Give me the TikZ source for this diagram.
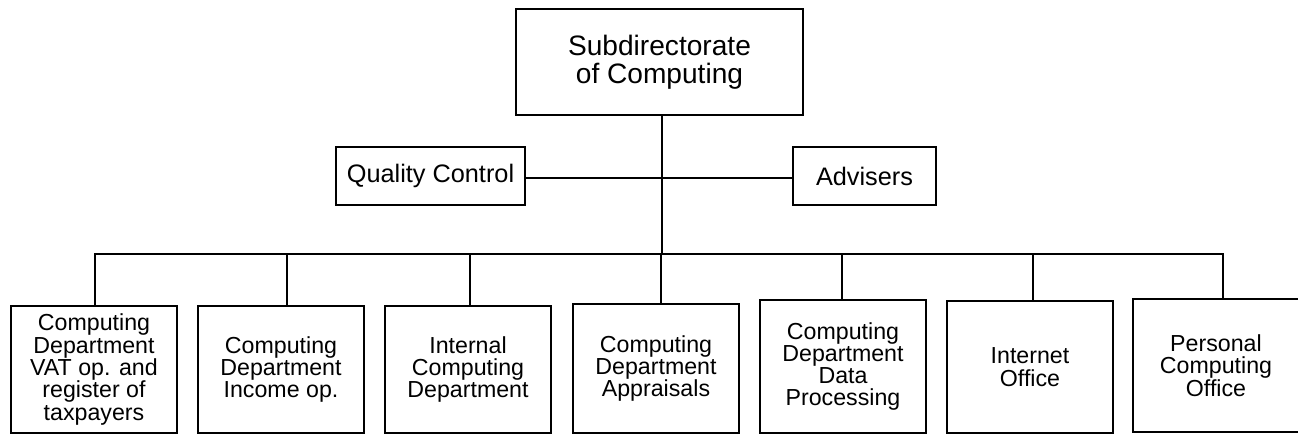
\documentclass[tikz,border=0pt]{standalone}
\usepackage{fontspec}
\setmainfont{Liberation Sans}
\usepackage{tikz}

\begin{document}
\begin{tikzpicture}[x=0.02cm, y=-0.02cm, line width=1.1pt,
		unitbox/.style={draw, rectangle, inner sep=0pt, align=center},
		headbox/.style={unitbox, minimum width=5.74cm, minimum height=2.12cm, font=\fontsize{16}{16}\selectfont},
		staffbox/.style={unitbox, minimum height=1.16cm, font=\fontsize{14.4}{14.4}\selectfont},
		deptbox/.style={unitbox, minimum width=3.32cm, font=\fontsize{13.2}{12.7}\selectfont}]
		\useasboundingbox (0, 0) rectangle (1298, 434);
		% Boxes:
		\node[headbox] (Head) at (659.5, 62){Subdirectorate\\of Computing};
		\node[staffbox, minimum width=3.78cm] (Quality) at (430.5, 176){Quality Control};
		\node[staffbox, minimum width=2.86cm] (Advisers) at (864.5, 176){Advisers};
		\node[deptbox, minimum height=2.54cm] (D1) at (94, 369.5){Computing\\Department\\VAT op. and\\register of\\taxpayers};
		\node[deptbox, minimum height=2.54cm] (D2) at (281, 369.5){Computing\\Department\\Income op.};
		\node[deptbox, minimum height=2.54cm] (D3) at (468, 369.5){Internal\\Computing\\Department};
		\node[deptbox, minimum height=2.58cm] (D4) at (656, 368.5){Computing\\Department\\Appraisals};
		\node[deptbox, minimum height=2.66cm] (D5) at (843, 366.5){Computing\\Department\\Data\\Processing};
		\node[deptbox, minimum height=2.64cm] (D6) at (1030, 367){Internet\\Office};
		\node[deptbox, minimum height=2.66cm] (D7) at (1216, 365.5){Personal\\Computing\\Office};
		% Wires:
		\coordinate (Bus) at (662, 254);
		\draw (Head.south -| Bus) -- (Bus);
		\draw ([yshift=-1.1pt]Quality.east) -- ([yshift=-1.1pt]Advisers.west);
		\draw (Bus) -| ([xshift=0.6pt]D1.north);
		\draw (Bus) -| ([xshift=3.4pt]D2.north);
		\draw (Bus) -| ([xshift=1.1pt]D3.north);
		\draw (Bus) -| ([xshift=2.8pt]D4.north);
		\draw (Bus) -| ([xshift=-0.6pt]D5.north);
		\draw (Bus) -| ([xshift=1.7pt]D6.north);
		\draw (Bus) -| ([xshift=4pt]D7.north);
	\end{tikzpicture}
\end{document}
